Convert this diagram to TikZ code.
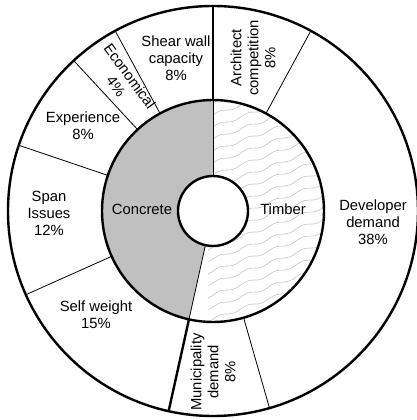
\documentclass[tikz,border=0pt]{standalone}
\usepackage{fontspec}
\setmainfont{Liberation Sans}
\usetikzlibrary{positioning}
\definecolor{concretegray}{RGB}{192, 192, 192}
\definecolor{wavegray}{RGB}{195, 195, 195}
\tikzset{
  ring/.style     = {line width=2.4pt},
  split/.style    = {line width=0.8pt},
  seglabel/.style = {align=center, inner sep=0pt,
                     font=\fontsize{14.8}{17}\selectfont},
  sidelabel/.style = {seglabel, rotate=90}
}

\begin{document}
\begin{tikzpicture}[x=1pt, y=1pt]
  \useasboundingbox (-213,-209) rectangle (204,211);
  % inner ring: concrete and timber
  \fill[concretegray] (90:111) arc (90:257.5:111) -- (257.5:35) arc (257.5:90:35) -- cycle;
  \begin{scope}
    \clip (90:111) arc (90:-102.5:111) -- (257.5:35) arc (-102.5:90:35) -- cycle;
    \foreach \k in {-14,...,10}
      \draw[wavegray, line width=0.6pt] plot[domain=-5:120, samples=80, smooth]
        (\x, {\k*12 + 0.36*\x + 1.5*sin(\x*13)});
  \end{scope}
  \draw[split] (90:35) -- (90:111);
  \draw[split] (257.5:35) -- (257.5:111);
  % outer ring dividers
  \foreach \a in {118.5, 132.8, 161.3, 204.1, 286.0, 61.5}
    \draw[split] (\a:111) -- (\a:205);
  \draw[ring] (90:111) -- (90:205);
  \draw[ring] (257.5:111) -- (257.5:205);
  % circles
  \draw[ring] (0,0) circle (205);
  \draw[ring] (0,0) circle (111);
  \draw[ring, fill=white] (0,0) circle (35);
  % labels
  \node[seglabel] (shear) at (-37,153) {Shear wall\\capacity\\8\%};
  \node[seglabel, rotate=-54] (econ) at (-90,130) {Economical\\4\%};
  \node[seglabel] (exper) at (-130,85) {Experience\\8\%};
  \node[seglabel] (span) at (-164,-2) {Span\\Issues\\12\%};
  \node[seglabel] (self) at (-117,-104) {Self weight\\15\%};
  \node[sidelabel] (munic) at (0,-161) {Municipality\\demand\\8\%};
  \node[seglabel] (devel) at (160,-11) {Developer\\demand\\38\%};
  \node[sidelabel] (arch) at (40,153) {Architect\\competition\\8\%};
  \node[seglabel] (concrete) at (-71,2) {Concrete};
  \node[seglabel] (timber) at (70,2) {Timber};
\end{tikzpicture}
\end{document}
